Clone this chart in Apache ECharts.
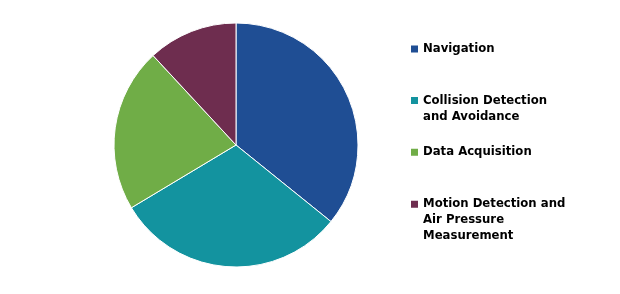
<!DOCTYPE html>
<html><head><meta charset="utf-8">
<script src="https://cdn.jsdelivr.net/npm/echarts@6/dist/echarts.min.js"></script>
<style>html,body{margin:0;padding:0;background:#fff}#c{width:620px;height:294px}</style>
</head><body><div id="c"></div>
<script>
const categories = ["Navigation", "Collision Detection\nand Avoidance", "Data Acquisition", "Motion Detection and\nAir Pressure\nMeasurement"];
const values = [35.8, 30.6, 21.7, 11.9];
const colors = ["#1F4E94", "#13939F", "#70AD47", "#6E2D4F"];
const legendLineCenters = [49, 100.5, 152.3, 204.3];

const chart = echarts.init(document.getElementById('c'), null, {renderer: 'canvas'});
const LH = 16;
const SQ = 7;
const legends = categories.map((name, i) => {
  const n = name.split('\n').length;
  const h = n * LH;
  const a = LH / 2 - SQ / 2;
  return {
    orient: 'vertical',
    left: 411,
    top: legendLineCenters[i] - LH / 2,
    padding: 0,
    itemWidth: SQ,
    itemHeight: h,
    symbolKeepAspect: false,
    icon: 'path://M0,' + a + 'L' + SQ + ',' + a + 'L' + SQ + ',' + (a + SQ) + 'L0,' + (a + SQ) + 'ZM0,0L0,' + h,
    itemStyle: {borderWidth: 0},
    selectedMode: false,
    data: [name],
    textStyle: {
      fontFamily: 'DejaVu Sans',
      fontWeight: 'bold',
      fontSize: 11.7,
      color: '#000',
      lineHeight: LH
    }
  };
});
chart.setOption({
  animation: false,
  color: colors,
  legend: legends,
  series: [{
    type: 'pie',
    center: [236, 145],
    radius: 122,
    startAngle: 90,
    clockwise: true,
    label: {show: false},
    labelLine: {show: false},
    itemStyle: {borderColor: '#fff', borderWidth: 1},
    emphasis: {disabled: true},
    data: categories.map((c, i) => ({name: c, value: values[i]}))
  }]
});
</script></body></html>
